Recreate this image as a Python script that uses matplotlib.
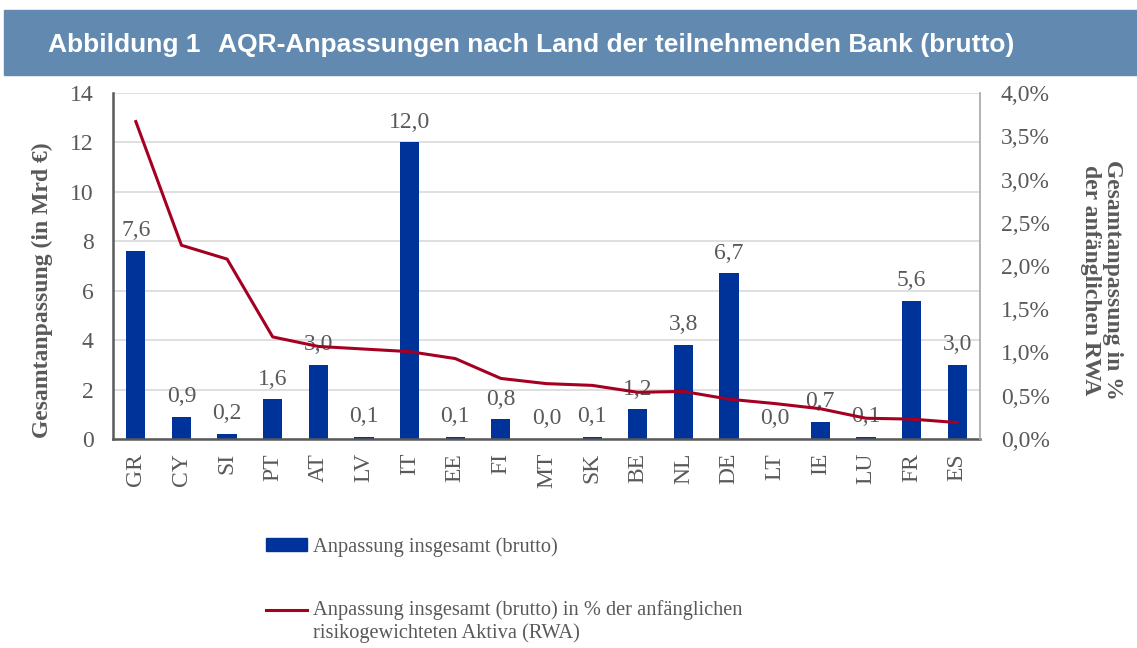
import numpy as np
import matplotlib.pyplot as plt
from matplotlib.patches import Rectangle
from matplotlib.lines import Line2D
from matplotlib.legend_handler import HandlerLine2D
from matplotlib.ticker import FuncFormatter

# === Data ===
countries = ["GR", "CY", "SI", "PT", "AT", "LV", "IT", "EE", "FI", "MT",
             "SK", "BE", "NL", "DE", "LT", "IE", "LU", "FR", "ES"]
adj_total = [7.6, 0.9, 0.2, 1.6, 3.0, 0.1, 12.0, 0.1, 0.8, 0.0,
             0.1, 1.2, 3.8, 6.7, 0.0, 0.7, 0.1, 5.6, 3.0]
adj_pct_rwa = [3.67, 2.24, 2.08, 1.18, 1.07, 1.04, 1.01, 0.93, 0.70, 0.64,
               0.62, 0.54, 0.55, 0.46, 0.41, 0.35, 0.24, 0.23, 0.19]

fig_no = "Abbildung 1"
title = "AQR-Anpassungen nach Land der teilnehmenden Bank (brutto)"
bar_label = "Anpassung insgesamt (brutto)"
line_label = ("Anpassung insgesamt (brutto) in % der anfänglichen\n"
              "risikogewichteten Aktiva (RWA)")

BAR_COL = "#003399"
LINE_COL = "#a50021"
TXT_COL = "#595959"
FS = 17

plt.rcParams["font.family"] = "Liberation Serif"


class FirstLineHandler(HandlerLine2D):
    # put the legend line next to the first text line, not the middle of the block
    def create_artists(self, legend, orig_handle, xdescent, ydescent, width,
                       height, fontsize, trans):
        return super().create_artists(legend, orig_handle, xdescent,
                                      ydescent - 17, width, height, fontsize, trans)


fig = plt.figure(figsize=(11.37, 6.48), dpi=100)

# header band
fig.patches.append(Rectangle((4 / 1137, 1 - 75 / 648), 1, 65 / 648,
                             transform=fig.transFigure, color="#628ab1", zorder=0))
for xpos, txt in [(48, fig_no), (218, title)]:
    fig.text(xpos / 1137, 1 - 52 / 648, txt, family="Liberation Sans", weight="bold",
             size=19, color="white", va="baseline", ha="left")

ax = fig.add_axes([113 / 1137, 1 - 439 / 648, 867 / 1137, 346 / 648])
x = np.arange(len(countries))
ax.bar(x, adj_total, width=0.42, color=BAR_COL, zorder=2)
for xi, v in zip(x, adj_total):
    ax.annotate(f"{v:.1f}".replace(".", ","), (xi, v), xytext=(0, 7),
                textcoords="offset points", ha="center", va="bottom",
                size=FS, color=TXT_COL, zorder=4)

ax.set_xlim(-0.5, len(countries) - 0.5)
ax.set_ylim(0, 14)
ax.set_yticks(range(0, 15, 2))
ax.set_xticks(x)
ax.set_xticklabels(countries, rotation=90)
ax.tick_params(axis="y", length=0, labelsize=FS, colors=TXT_COL, pad=14)
ax.tick_params(axis="x", length=0, labelsize=FS, colors=TXT_COL, pad=10)
ax.yaxis.grid(True, color="#d9d9d9", lw=1.2, zorder=0)
ax.set_axisbelow(True)
for s in ["top", "right"]:
    ax.spines[s].set_visible(False)
ax.spines["left"].set_color(TXT_COL)
ax.spines["left"].set_linewidth(1.8)
ax.spines["bottom"].set_color(TXT_COL)
ax.spines["bottom"].set_linewidth(1.8)
ax.spines["bottom"].set_zorder(3)
ax.set_ylabel("Gesamtanpassung (in Mrd €)", weight="bold", size=FS,
              color=TXT_COL, va="center")
ax.yaxis.set_label_coords(-0.081, 0.43)

ax2 = ax.twinx()
ax2.plot(x, adj_pct_rwa, color=LINE_COL, lw=2.2, zorder=3)
ax2.set_ylim(0, 4)
ax2.set_yticks(np.arange(0, 4.01, 0.5))
ax2.yaxis.set_major_formatter(FuncFormatter(lambda v, p: f"{v:.1f}%".replace(".", ",")))
ax2.tick_params(axis="y", length=0, labelsize=FS, colors=TXT_COL, pad=15)
for s in ["top", "left", "bottom"]:
    ax2.spines[s].set_visible(False)
ax2.spines["right"].set_color("#a6a6a6")
ax2.spines["right"].set_linewidth(1.2)
ax2.set_ylabel("Gesamtanpassung in %\nder anfänglichen RWA", weight="bold",
               size=FS, color=TXT_COL, rotation=270, linespacing=1.1,
               va="center", ha="center")
ax2.yaxis.set_label_coords(1.14, 0.46)

handles = [Rectangle((0, 0), 1, 1, color=BAR_COL),
           Line2D([0], [0], color=LINE_COL, lw=2.2)]
fig.legend(handles, [bar_label, line_label], loc="upper left",
           bbox_to_anchor=(248 / 1137, 1 - 519 / 648), frameon=False,
           fontsize=14.7, labelcolor=TXT_COL, handlelength=2.0, handleheight=0.6,
           handletextpad=0.3, labelspacing=2.1,
           handler_map={Line2D: FirstLineHandler()})

fig.savefig("out.png", dpi=100)
